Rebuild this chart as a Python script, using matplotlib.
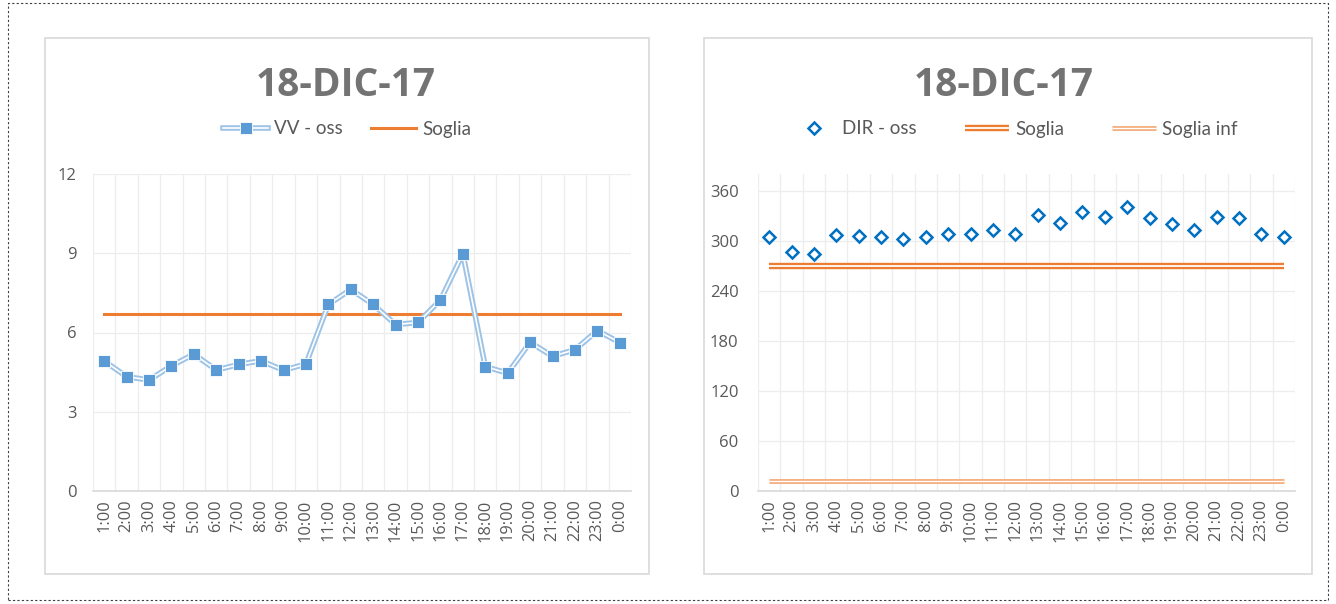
import matplotlib
matplotlib.use("Agg")
import matplotlib.pyplot as plt
from matplotlib.patches import Rectangle

# ---------- data ----------
hours = ["1:00", "2:00", "3:00", "4:00", "5:00", "6:00", "7:00", "8:00", "9:00", "10:00",
         "11:00", "12:00", "13:00", "14:00", "15:00", "16:00", "17:00", "18:00", "19:00",
         "20:00", "21:00", "22:00", "23:00", "0:00"]
vv_oss = [4.92, 4.33, 4.2, 4.74, 5.18, 4.58, 4.79, 4.93, 4.57, 4.81, 7.06, 7.63,
          7.06, 6.3, 6.38, 7.23, 8.98, 4.71, 4.46, 5.63, 5.1, 5.35, 6.07, 5.62]
vv_soglia = 6.7
dir_oss = [304, 287, 284, 307, 306, 305, 302, 304, 308, 308, 313, 308,
           331, 321, 335, 329, 340, 327, 320, 313, 328, 327, 308, 304]
dir_soglia = 270
dir_soglia_inf = 12
title = "18-DIC-17"

GRAY = "#595959"
plt.rcParams["font.family"] = ["Lato", "DejaVu Sans"]

W, H = 1336, 604
fig = plt.figure(figsize=(W / 100, H / 100), dpi=100)


def fx(px):
    return px / W


def fy(py):
    return 1 - py / H


# outer dashed frame + panel frames
fig.patches.append(Rectangle((fx(8), fy(600)), fx(1320), 597 / H, transform=fig.transFigure,
                             fill=False, ec="#404040", lw=0.8, ls=(0, (2, 2))))
for x0, x1 in [(45, 649), (704, 1312)]:
    fig.patches.append(Rectangle((fx(x0), fy(574)), fx(x1 - x0), 536 / H,
                                 transform=fig.transFigure, fill=False, ec="#D9D9D9", lw=1.2))

x = list(range(len(hours)))


def style(ax, ylim, yticks, ypad):
    ax.set_xlim(-0.5, len(hours) - 0.5)
    ax.set_ylim(*ylim)
    ax.set_yticks(yticks)
    ax.set_xticks(x)
    ax.set_xticklabels(hours, rotation=90)
    ax.set_xticks([i + 0.5 for i in range(-1, len(hours))], minor=True)
    ax.grid(True, which="minor", axis="x", color="#EDEDED", lw=0.9)
    ax.grid(True, which="major", axis="y", color="#EDEDED", lw=0.9)
    ax.set_axisbelow(True)
    for s in ["top", "right", "left"]:
        ax.spines[s].set_visible(False)
    ax.spines["bottom"].set_color("#D9D9D9")
    ax.spines["bottom"].set_linewidth(1.2)
    ax.tick_params(which="both", length=0)
    ax.tick_params(axis="y", labelsize=12, labelcolor=GRAY, pad=ypad)
    ax.tick_params(axis="x", labelsize=11.8, labelcolor=GRAY, pad=6)
    for lab in ax.get_xticklabels() + ax.get_yticklabels():
        lab.set_fontfamily(["Open Sans", "DejaVu Sans"])


# ---------- left: VV ----------
ax1 = fig.add_axes([fx(93), fy(491), fx(631 - 93), (491 - 174) / H])
style(ax1, (0, 12), [0, 3, 6, 9, 12], 12)
l1a, = ax1.plot(x, vv_oss, color="#9DC3E6", lw=4, solid_joinstyle="round", zorder=3)
l1b, = ax1.plot(x, vv_oss, color="white", lw=1.2, solid_joinstyle="round", zorder=3)
m1, = ax1.plot(x, vv_oss, ls="none", marker="s", ms=8, mfc="#5B9BD5", mec="white",
               mew=0.6, zorder=4)
s1, = ax1.plot(x, [vv_soglia] * len(x), color="#ED7D31", lw=2.2, zorder=2)

fig.text(fx(346), fy(85), title, ha="center", va="center", fontsize=28,
         fontweight="bold", color="#737373", family=["Open Sans", "DejaVu Sans"])
fig.legend([(l1a, l1b, m1), s1], ["VV - oss", "Soglia"], loc="center",
           bbox_to_anchor=(fx(347), fy(129)), ncol=2, frameon=False, fontsize=13.5,
           labelcolor=GRAY, handlelength=2.4, columnspacing=1.5, handletextpad=0.32,
           numpoints=1)

# ---------- right: DIR ----------
ax2 = fig.add_axes([fx(758), fy(491), fx(1295 - 758), (491 - 174) / H])
style(ax2, (0, 380), [0, 60, 120, 180, 240, 300, 360], 14)
d2, = ax2.plot(x, dir_oss, ls="none", marker="D", ms=6.5, mfc="white", mec="#0070C0",
               mew=1.8, zorder=4)
sa, = ax2.plot(x, [dir_soglia] * len(x), color="#ED7D31", lw=4.6, solid_capstyle="butt", zorder=2)
sb, = ax2.plot(x, [dir_soglia] * len(x), color="white", lw=1.3, solid_capstyle="butt", zorder=2)
ia, = ax2.plot(x, [dir_soglia_inf] * len(x), color="#F4B183", lw=3.6, solid_capstyle="butt", zorder=2)
ib, = ax2.plot(x, [dir_soglia_inf] * len(x), color="white", lw=0.9, solid_capstyle="butt", zorder=2)

fig.text(fx(1004), fy(85), title, ha="center", va="center", fontsize=28,
         fontweight="bold", color="#737373", family=["Open Sans", "DejaVu Sans"])
fig.legend([d2, (sa, sb), (ia, ib)], ["DIR - oss", "Soglia", "Soglia inf"], loc="center",
           bbox_to_anchor=(fx(1015), fy(129)), ncol=3, frameon=False, fontsize=13.5,
           labelcolor=GRAY, handlelength=2.35, columnspacing=2.56, handletextpad=0.32,
           numpoints=1)

fig.savefig("out.png", dpi=100)
